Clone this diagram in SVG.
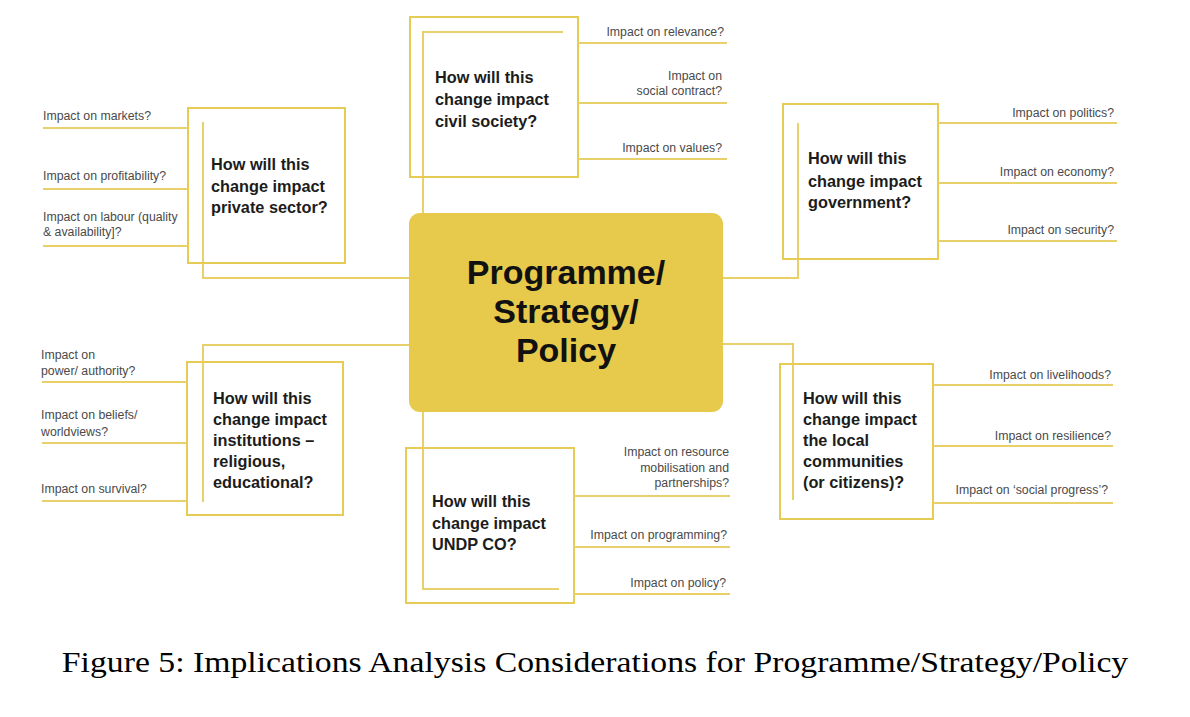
<svg xmlns="http://www.w3.org/2000/svg" width="1190" height="717" viewBox="0 0 1190 717">
<style>
.box{fill:none;stroke:#E6CB55;stroke-width:2}
.ln{fill:none;stroke:#E8D06A;stroke-width:2}
.q{font-family:"Liberation Sans",Arial,sans-serif;font-size:12.3px;fill:#4a4a4a}
.r{text-anchor:end}
.h{font-family:"Liberation Sans",Arial,sans-serif;font-size:16.3px;font-weight:bold;fill:#1c1c1c}
.c{font-family:"Liberation Sans",Arial,sans-serif;font-size:34px;font-weight:bold;fill:#111;text-anchor:middle}
.cap{font-family:"Liberation Serif","Times New Roman",serif;font-size:30px;fill:#000;text-anchor:middle}
</style>
<rect width="1190" height="717" fill="#fff"/>
<g id="connectors">
<polyline class="ln" points="563,32 423,32 423,213"/>
<polyline class="ln" points="203,122 203,278 409,278"/>
<polyline class="ln" points="798,123 798,278 723,278"/>
<polyline class="ln" points="203,502 203,345 409,345"/>
<polyline class="ln" points="793,500 793,344 723,344"/>
<polyline class="ln" points="423,412 423,589 559,589"/>
</g>
<g id="civil-society">
<rect class="box" x="410" y="17" width="168" height="160"/>
<line class="ln" x1="578" y1="43" x2="727" y2="43"/>
<line class="ln" x1="578" y1="103" x2="727" y2="103"/>
<line class="ln" x1="578" y1="159" x2="727" y2="159"/>
<text class="q r" x="724" y="36">Impact on relevance?</text>
<text class="q r" x="722" y="80">Impact on</text>
<text class="q r" x="722" y="95">social contract?</text>
<text class="q r" x="722" y="152">Impact on values?</text>
<text class="h" x="435" y="83">How will this</text>
<text class="h" x="435" y="105">change impact</text>
<text class="h" x="435" y="127">civil society?</text>
</g>
<g id="private-sector">
<rect class="box" x="188" y="108" width="157" height="155"/>
<line class="ln" x1="43" y1="128" x2="188" y2="128"/>
<line class="ln" x1="43" y1="189" x2="188" y2="189"/>
<line class="ln" x1="43" y1="246" x2="188" y2="246"/>
<text class="q" x="43" y="120">Impact on markets?</text>
<text class="q" x="43" y="180">Impact on profitability?</text>
<text class="q" x="43" y="221">Impact on labour (quality</text>
<text class="q" x="43" y="236">&amp; availability]?</text>
<text class="h" x="211" y="170">How will this</text>
<text class="h" x="211" y="192">change impact</text>
<text class="h" x="211" y="213">private sector?</text>
</g>
<g id="government">
<rect class="box" x="783" y="104" width="155" height="155"/>
<line class="ln" x1="938" y1="123" x2="1117" y2="123"/>
<line class="ln" x1="938" y1="183" x2="1117" y2="183"/>
<line class="ln" x1="938" y1="241" x2="1117" y2="241"/>
<text class="q r" x="1114" y="117">Impact on politics?</text>
<text class="q r" x="1114" y="176">Impact on economy?</text>
<text class="q r" x="1114" y="234">Impact on security?</text>
<text class="h" x="808" y="164">How will this</text>
<text class="h" x="808" y="187">change impact</text>
<text class="h" x="808" y="208">government?</text>
</g>
<g id="center">
<rect x="409" y="213" width="314" height="199" rx="11" fill="#E7C94B"/>
<text class="c" x="566" y="284">Programme/</text>
<text class="c" x="566" y="323">Strategy/</text>
<text class="c" x="566" y="362">Policy</text>
</g>
<g id="institutions">
<rect class="box" x="187" y="362" width="156" height="153"/>
<line class="ln" x1="42" y1="382" x2="187" y2="382"/>
<line class="ln" x1="42" y1="443" x2="187" y2="443"/>
<line class="ln" x1="42" y1="501" x2="187" y2="501"/>
<text class="q" x="41" y="359">Impact on</text>
<text class="q" x="41" y="375">power/ authority?</text>
<text class="q" x="41" y="419">Impact on beliefs/</text>
<text class="q" x="41" y="436">worldviews?</text>
<text class="q" x="41" y="493">Impact on survival?</text>
<text class="h" x="213" y="404">How will this</text>
<text class="h" x="213" y="425">change impact</text>
<text class="h" x="213" y="446">institutions –</text>
<text class="h" x="213" y="467">religious,</text>
<text class="h" x="213" y="488">educational?</text>
</g>
<g id="local-communities">
<rect class="box" x="780" y="364" width="153" height="155"/>
<line class="ln" x1="933" y1="385" x2="1113" y2="385"/>
<line class="ln" x1="933" y1="446" x2="1113" y2="446"/>
<line class="ln" x1="933" y1="503" x2="1113" y2="503"/>
<text class="q r" x="1111" y="379">Impact on livelihoods?</text>
<text class="q r" x="1111" y="440">Impact on resilience?</text>
<text class="q r" x="1108" y="494">Impact on ‘social progress’?</text>
<text class="h" x="803" y="404">How will this</text>
<text class="h" x="803" y="425">change impact</text>
<text class="h" x="803" y="446">the local</text>
<text class="h" x="803" y="467">communities</text>
<text class="h" x="803" y="488">(or citizens)?</text>
</g>
<g id="undp-co">
<rect class="box" x="406" y="448" width="168" height="155"/>
<line class="ln" x1="574" y1="496" x2="730" y2="496"/>
<line class="ln" x1="574" y1="547" x2="730" y2="547"/>
<line class="ln" x1="574" y1="594" x2="730" y2="594"/>
<text class="q r" x="729" y="456">Impact on resource</text>
<text class="q r" x="729" y="472">mobilisation and</text>
<text class="q r" x="729" y="487">partnerships?</text>
<text class="q r" x="727" y="539">Impact on programming?</text>
<text class="q r" x="726" y="587">Impact on policy?</text>
<text class="h" x="432" y="507">How will this</text>
<text class="h" x="432" y="529">change impact</text>
<text class="h" x="432" y="550">UNDP CO?</text>
</g>
<text class="cap" transform="translate(595,672) scale(1.125,1)" x="0" y="0">Figure 5: Implications Analysis Considerations for Programme/Strategy/Policy</text>
</svg>
